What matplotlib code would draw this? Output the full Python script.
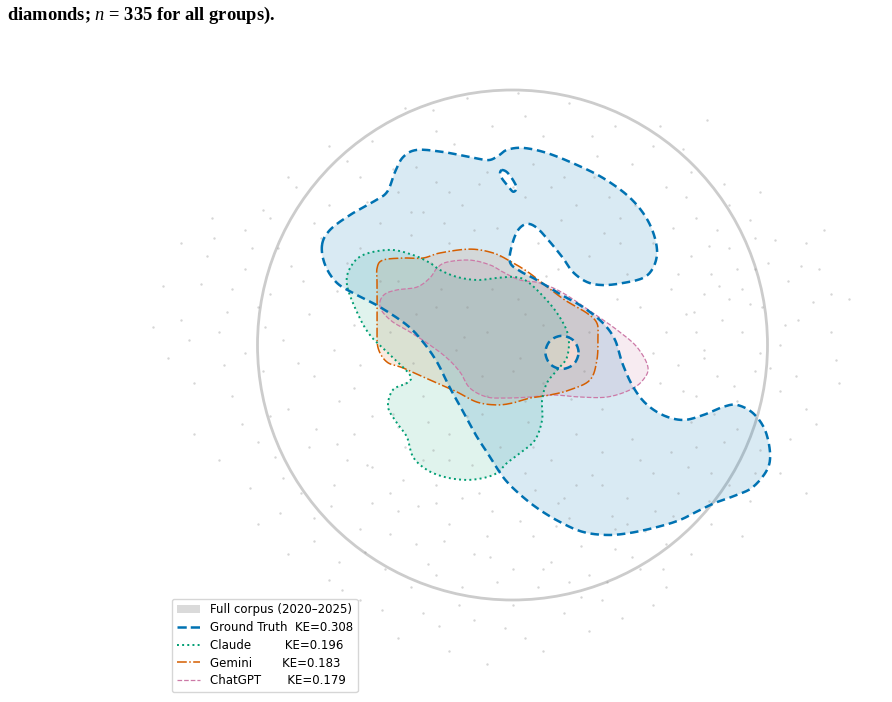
import numpy as np
import matplotlib
matplotlib.use("Agg")
import matplotlib.pyplot as plt
from matplotlib.path import Path
from matplotlib.patches import PathPatch, Circle, Patch
from matplotlib.lines import Line2D

plt.rcParams["mathtext.fontset"] = "custom"
plt.rcParams["mathtext.it"] = "Liberation Serif:italic"
plt.rcParams["mathtext.rm"] = "Liberation Serif"

# ---------------- data (unit Poincare-disk coordinates) ----------------
groups = ["Ground Truth", "Claude", "Gemini", "ChatGPT"]
ke_values = [0.308, 0.196, 0.183, 0.179]
colors = ["#0072B2", "#009E73", "#D55E00", "#CC79A7"]

# Ground truth density contour (outer ring + two holes)
gt_x = [-0.747, -0.716, -0.637, -0.547, -0.492, -0.461, -0.429, -0.375, -0.273, -0.167,
        -0.096, -0.057, -0.022, 0.041, 0.135, 0.253, 0.355, 0.449, 0.512, 0.551,
        0.567, 0.551, 0.512, 0.433, 0.355, 0.292, 0.237, 0.198, 0.147, 0.096,
        0.057, 0.022, -0.002, -0.010, 0.029, 0.088, 0.186, 0.276, 0.355, 0.402,
        0.429, 0.469, 0.520, 0.590, 0.669, 0.747, 0.825, 0.880, 0.943, 0.990,
        1.010, 0.998, 0.943, 0.880, 0.802, 0.735, 0.657, 0.567, 0.461, 0.371,
        0.276, 0.186, 0.096, 0.018, -0.037, -0.088, -0.139, -0.186, -0.245, -0.296,
        -0.351, -0.414, -0.520, -0.610, -0.688, -0.735]
gt_y = [0.392, 0.451, 0.510, 0.561, 0.600, 0.678, 0.737, 0.765, 0.757, 0.737,
        0.725, 0.741, 0.765, 0.773, 0.753, 0.706, 0.655, 0.588, 0.518, 0.443,
        0.365, 0.302, 0.263, 0.243, 0.235, 0.247, 0.286, 0.341, 0.404, 0.459,
        0.475, 0.451, 0.392, 0.325, 0.290, 0.259, 0.200, 0.149, 0.086, 0.020,
        -0.067, -0.157, -0.227, -0.275, -0.294, -0.275, -0.243, -0.235, -0.267, -0.333,
        -0.424, -0.490, -0.557, -0.588, -0.616, -0.647, -0.686, -0.714, -0.737, -0.745,
        -0.733, -0.694, -0.639, -0.576, -0.518, -0.439, -0.361, -0.275, -0.169, -0.067,
        0.012, 0.078, 0.149, 0.196, 0.243, 0.314]
gt_hole1_x = [-0.042, -0.022, 0.002, 0.016, 0.003, -0.016, -0.042, -0.049]
gt_hole1_y = [0.686, 0.678, 0.647, 0.616, 0.601, 0.621, 0.654, 0.673]
gt_hole2_x = [0.259, 0.240, 0.194, 0.148, 0.129, 0.148, 0.194, 0.240]
gt_hole2_y = [-0.029, 0.017, 0.036, 0.017, -0.029, -0.075, -0.094, -0.075]

claude_x = [-0.649, -0.637, -0.586, -0.480, -0.390, -0.324, -0.284, -0.218, -0.139, -0.061,
            0.002, 0.049, 0.108, 0.175, 0.218, 0.214, 0.175, 0.135, 0.116, 0.116,
            0.088, 0.029, -0.022, -0.061, -0.116, -0.186, -0.265, -0.335, -0.390, -0.414,
            -0.453, -0.488, -0.469, -0.414, -0.402, -0.480, -0.559, -0.610]
claude_y = [0.235, 0.302, 0.353, 0.373, 0.353, 0.322, 0.294, 0.267, 0.255, 0.263,
            0.267, 0.255, 0.204, 0.125, 0.039, -0.047, -0.098, -0.149, -0.216, -0.294,
            -0.373, -0.424, -0.463, -0.502, -0.522, -0.529, -0.518, -0.490, -0.439, -0.361,
            -0.306, -0.243, -0.176, -0.149, -0.118, -0.039, 0.039, 0.129]

gemini_x = [-0.531, -0.508, -0.429, -0.351, -0.284, -0.167, -0.076, -0.010, 0.061, 0.127,
            0.206, 0.292, 0.331, 0.335, 0.331, 0.304, 0.225, 0.147, 0.069, 0.002,
            -0.061, -0.139, -0.218, -0.324, -0.429, -0.492, -0.527, -0.531, -0.531, -0.531]
gemini_y = [0.302, 0.333, 0.341, 0.341, 0.361, 0.376, 0.361, 0.329, 0.286, 0.235,
            0.176, 0.125, 0.086, 0.031, -0.059, -0.137, -0.176, -0.196, -0.208, -0.227,
            -0.235, -0.224, -0.184, -0.137, -0.090, -0.067, -0.012, 0.067, 0.145, 0.235]

chatgpt_x = [-0.520, -0.500, -0.453, -0.375, -0.324, -0.296, -0.257, -0.167, -0.088, -0.037,
             0.029, 0.108, 0.198, 0.316, 0.410, 0.488, 0.531, 0.512, 0.461, 0.371,
             0.265, 0.159, 0.069, -0.022, -0.100, -0.167, -0.206, -0.257, -0.324, -0.402,
             -0.469, -0.512]
chatgpt_y = [0.169, 0.200, 0.216, 0.227, 0.263, 0.302, 0.325, 0.333, 0.314, 0.286,
             0.255, 0.243, 0.204, 0.125, 0.059, -0.008, -0.086, -0.137, -0.176, -0.204,
             -0.204, -0.196, -0.204, -0.208, -0.204, -0.169, -0.106, -0.051, 0.000, 0.051,
             0.090, 0.133]

# full corpus points (background)
corpus_x = [-0.42, -0.18, 0.05, 0.22, 0.40, -0.55, -0.30, 0.12, 0.55, 0.763, -0.65, -0.08, 0.33, -0.38, 0.70,
            -0.85, -0.72, -0.60, -0.45, -0.30, -0.20, -0.10, 0.05, 0.15, 0.25, 0.42, 0.60, 0.72, 0.85, -0.95,
            -0.52, -0.35, 0.32, 0.80, 0.95, -1.05, 0.68,
            -1.20, -1.05, -0.92, -0.82, -0.75, -0.65, -0.40, -0.25, 0.10, 0.30, 0.45, 0.62, 0.70, 0.78,
            0.85, 0.90, 1.00, 1.08, 1.15, -1.10, -0.95, 0.55, 0.75, 0.95, 1.20, 0.88, 0.65,
            -1.30, -1.15, -1.00, -0.90, -0.80, -0.70, -0.62, -0.30, -0.10, 0.05, 0.25, 0.50, 0.60, 0.68,
            0.75, 0.82, 0.90, 0.98, 1.05, 1.12, 0.55, 0.72, 0.85, 1.25, -1.05,
            -1.25, -1.10, -0.98, -0.88, -0.78, -0.68, -0.60, -0.55, -0.35, 0.00, 0.35, 0.58, 0.65, 0.72,
            0.80, 0.88, 0.95, 1.05, 1.15, 0.60, -0.95, 0.75,
            -1.15, -1.00, -0.90, -0.80, -0.70, -0.62, -0.55, -0.48, -0.42, -0.30, -0.25, -0.20, -0.05, 0.05,
            0.15, 0.25, 0.35, 0.45, 0.55, 0.65, 0.72, 0.85, 1.05, 1.15, -0.65, -0.35, 0.25,
            -1.00, -0.88, -0.78, -0.68, -0.60, -0.50, -0.45, -0.38, -0.30, -0.25, -0.15, -0.08, 0.00, 0.08,
            0.15, 0.22, 0.30, 0.40, 0.50, 0.60, 0.70, 0.78, 0.90, -0.55, -0.20, 0.10, -0.40, 0.45, -0.72, -0.10,
            -0.60, -0.35, -0.15, 0.00, 0.20, 0.35, 0.55, -0.45, -0.25, 0.05, 0.30, 0.60, -0.10,
            -1.30, -1.35, -1.25, -1.18, 1.25, 1.28, 1.22,
            -0.37, -0.27, -0.13, 0.03, 0.18, 0.27, -0.33, -0.06, 0.12, 0.37, -0.48, -0.58, 0.52, 0.63,
            -0.21, 0.27, 0.43, -0.51, -0.03, 0.17, -0.43, -0.16, 0.09, 0.31, -0.71, -0.83, -0.93, -1.06,
            -0.77, -0.62, -0.47, -0.84, -0.97, -1.12, -1.22, -0.87, -1.02, -0.78, -0.69, -0.57, -0.47, -0.23,
            -0.13, 0.08, 0.19, 0.38, 0.47, 0.63, 0.77, 0.93, 1.03, 1.13, 1.18, 1.07, 0.97, 0.87,
            0.79, 0.67, 0.71, 0.81, 0.93, 1.01, 1.11, 1.19, 1.09, 0.97, 0.83, 0.69, 0.77, 0.93,
            0.59, 0.47, -0.67, -0.78, -0.91, -1.03, -1.13, -1.27, -1.17, -0.98, -0.88, -0.72, 0.58, 0.83,
            0.97, -0.27, -0.06, 0.13, 0.36, 0.41, 0.23, -0.12, -0.39, -0.19, 0.06, 0.47, 0.39, -0.09,
            0.22, -0.29, 0.12, -0.57, -0.31, -0.69, 1.27, 1.32, -1.37, -1.41, 0.31, -0.31, 0.02, 0.67,
            -0.45, -0.38, -0.28, -0.18, -0.08, 0.02, 0.12, -0.22, -0.12, 0.03, 0.12, 0.28, 0.30, -0.48,
            -0.42, -0.33, -0.10, 0.05, 0.18, -0.05, -0.32, -0.60, -0.52, -0.15, 0.00, 0.20, 0.42, 0.48,
            -0.25, -0.40, 0.35, 0.50, 0.62, 0.78, 0.88, 0.95, 0.20, 0.08, 0.40, -0.25, -0.18, -0.45,
            -0.30, 0.56, 0.70]
corpus_y = [0.93, 0.97, 0.90, 0.95, 0.86, 0.80, 0.84, 0.82, 0.78, 0.882, 0.72, 0.86, 0.74, 0.70, 0.68,
            0.62, 0.55, 0.66, 0.60, 0.64, 0.55, 0.68, 0.58, 0.62, 0.55, 0.50, 0.62, 0.50, 0.55, 0.50,
            0.48, 0.52, 0.66, 0.45, 0.42, 0.45, 0.58,
            0.35, 0.30, 0.38, 0.25, 0.42, 0.32, 0.43, 0.40, 0.40, 0.35, 0.28, 0.22, 0.35, 0.28,
            0.38, 0.22, 0.32, 0.25, 0.40, 0.22, 0.20, 0.40, 0.20, 0.30, 0.30, 0.30, 0.28,
            0.10, 0.05, 0.15, 0.02, 0.12, -0.02, 0.08, 0.15, 0.05, 0.12, 0.00, 0.15, 0.05, 0.12,
            -0.02, 0.10, 0.05, 0.15, 0.00, 0.10, -0.03, 0.05, 0.18, 0.05, -0.03,
            -0.15, -0.20, -0.10, -0.25, -0.12, -0.22, -0.08, -0.28, -0.20, -0.10, -0.25, -0.15, -0.08, -0.20,
            -0.12, -0.22, -0.10, -0.18, -0.25, -0.28, -0.28, -0.05,
            -0.45, -0.38, -0.52, -0.40, -0.55, -0.35, -0.48, -0.58, -0.40, -0.55, -0.35, -0.60, -0.40, -0.50,
            -0.45, -0.55, -0.42, -0.60, -0.50, -0.58, -0.40, -0.55, -0.50, -0.58, -0.45, -0.45, -0.35,
            -0.70, -0.82, -0.68, -0.85, -0.72, -0.88, -0.65, -0.78, -0.90, -0.70, -0.82, -0.65, -0.88, -0.75,
            -0.85, -0.68, -0.90, -0.80, -0.88, -0.78, -0.82, -0.70, -0.75, -0.62, -0.95, -0.95, -0.95, -0.70, -0.92, -0.75,
            -1.00, -1.05, -1.08, -1.02, -1.05, -1.00, -1.02, -1.15, -1.20, -1.15, -1.12, -0.95, -1.25,
            0.40, -0.05, -0.35, 0.50, 0.20, -0.15, 0.45,
            -0.63, -0.77, -0.58, -0.69, -0.62, -0.79, -0.86, -0.93, -0.88, -0.93, -0.74, -0.81, -0.73, -0.67,
            -1.02, -0.99, -1.07, -1.04, -1.11, -0.71, -0.53, -0.47, -0.57, -0.51, -0.63, -0.58, -0.44, -0.31,
            -0.33, -0.17, -0.27, -0.07, 0.07, 0.13, 0.24, 0.31, 0.38, 0.48, 0.21, 0.56, 0.69, 0.79,
            0.63, 0.71, 0.49, 0.58, 0.71, 0.46, 0.39, 0.49, 0.41, 0.31, 0.17, 0.08, -0.03, -0.16,
            -0.27, -0.18, 0.13, 0.23, 0.16, -0.09, -0.12, -0.31, -0.37, -0.41, -0.38, -0.48, -0.61, -0.61,
            -0.88, -0.83, -0.96, -0.77, -0.66, -0.56, -0.08, 0.02, 0.42, 0.53, 0.66, 0.78, 0.86, 0.63,
            0.60, 0.48, 0.46, 0.27, 0.44, 0.18, -0.21, -0.27, -0.07, 0.03, -0.30, -0.37, -0.67, -0.83,
            -0.93, -1.10, -1.20, -0.47, -0.41, -0.39, -0.06, 0.18, 0.23, 0.07, 0.82, 0.92, 0.99, 0.77,
            0.25, 0.12, 0.22, 0.15, 0.22, 0.18, 0.08, -0.02, -0.12, -0.05, -0.15, -0.10, 0.05, 0.05,
            -0.15, -0.30, -0.20, -0.22, 0.30, 0.35, 0.32, 0.38, 0.25, 0.45, 0.62, 0.66, 0.40, 0.55,
            0.60, 0.52, -0.55, -0.45, -0.42, -0.50, -0.33, -0.50, -0.60, -0.40, -0.72, -0.45, -0.28, -0.32,
            -0.62, -0.65, -0.30]

legend_labels = ["Full corpus (2020\u20132025)",
                 "Ground Truth  KE=0.308",
                 "Claude         KE=0.196",
                 "Gemini        KE=0.183",
                 "ChatGPT       KE=0.179"]

# ---------------- helpers ----------------
def smooth_closed(x, y, n=16):
    P = np.column_stack([x, y]).astype(float)
    N = len(P)
    t = np.linspace(0, 1, n, endpoint=False)[:, None]
    out = []
    for i in range(N):
        p0, p1, p2, p3 = P[i - 1], P[i], P[(i + 1) % N], P[(i + 2) % N]
        out.append(0.5 * (2 * p1 + (-p0 + p2) * t + (2 * p0 - 5 * p1 + 4 * p2 - p3) * t ** 2
                          + (-p0 + 3 * p1 - 3 * p2 + p3) * t ** 3))
    out = np.vstack(out)
    return np.vstack([out, out[:1]])


def signed_area(c):
    return 0.5 * np.sum(c[:-1, 0] * c[1:, 1] - c[1:, 0] * c[:-1, 1])


def fill_region(ax, rings, color, alpha, z):
    curves = [smooth_closed(rx, ry) for rx, ry in rings]
    outer_sign = np.sign(signed_area(curves[0]))
    verts, codes = [], []
    for k, c in enumerate(curves):
        if k > 0 and np.sign(signed_area(c)) == outer_sign:
            c = c[::-1]
        verts.append(c)
        codes += [Path.MOVETO] + [Path.LINETO] * (len(c) - 2) + [Path.CLOSEPOLY]
    ax.add_patch(PathPatch(Path(np.vstack(verts), codes), facecolor=color, alpha=alpha,
                           edgecolor="none", zorder=z))
    return curves


def outline(ax, curves, color, ls, lw, z, dashes=None):
    for c in curves:
        ln, = ax.plot(c[:, 0], c[:, 1], color=color, lw=lw, ls=ls, zorder=z)
        if dashes is not None:
            ln.set_dashes(dashes)


# ---------------- figure ----------------
fig = plt.figure(figsize=(8.92, 7.02), dpi=100)
ax = fig.add_axes([0, 0, 1, 1])
ax.set_xlim(-512.5 / 255, (892 - 512.5) / 255)
ax.set_ylim((345 - 702) / 255, 345 / 255)
ax.axis("off")

ax.add_patch(Circle((0, 0), 1.0, fill=False, edgecolor="#cccccc", lw=2.0, zorder=1))

c_chat = fill_region(ax, [(chatgpt_x, chatgpt_y)], colors[3], 0.15, 2.0)
c_gem = fill_region(ax, [(gemini_x, gemini_y)], colors[2], 0.12, 2.1)
c_cla = fill_region(ax, [(claude_x, claude_y)], colors[1], 0.12, 2.2)
c_gt = fill_region(ax, [(gt_x, gt_y), (gt_hole1_x, gt_hole1_y), (gt_hole2_x, gt_hole2_y)],
                   colors[0], 0.15, 2.3)

ax.scatter(corpus_x, corpus_y, s=3, color="#8c8c8c", alpha=0.35, linewidths=0, zorder=3)

outline(ax, c_chat, colors[3], "--", 0.9, 4.0)
outline(ax, c_gem, colors[2], "-.", 1.1, 4.1)
outline(ax, c_cla, colors[1], ":", 1.4, 4.2)
outline(ax, c_gt, colors[0], "--", 1.8, 4.3, dashes=(3.4, 1.9))

handles = [Patch(facecolor="#bdbdbd", alpha=0.55, edgecolor="none"),
           Line2D([], [], color=colors[0], ls="--", lw=1.8),
           Line2D([], [], color=colors[1], ls=":", lw=1.4),
           Line2D([], [], color=colors[2], ls="-.", lw=1.1),
           Line2D([], [], color=colors[3], ls="--", lw=0.9)]
leg = fig.legend(handles, legend_labels, loc="lower left",
                 bbox_to_anchor=(172 / 892, 1 - 692 / 702), bbox_transform=fig.transFigure,
                 fontsize=8.5, frameon=True, labelspacing=0.4, borderaxespad=0, handlelength=2.0)
leg.get_frame().set_edgecolor("#cccccc")

fig.text(7 / 892, 1 - 15 / 702, r"diamonds; $\mathit{n}$ = 335 for all groups).",
         ha="left", va="center", fontsize=13.3, fontweight="bold", family="Liberation Serif")

fig.savefig("out.png", dpi=100)
